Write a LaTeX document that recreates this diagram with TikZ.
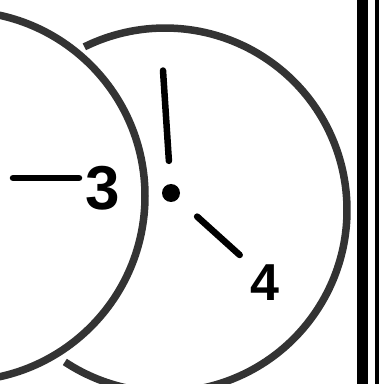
\documentclass[tikz,border=0pt]{standalone}
\usepackage{fontspec}
\setmainfont{Liberation Sans}
\usepackage{tikz}
\usetikzlibrary{positioning}

\begin{document}
\begin{tikzpicture}[x=1pt,y=1pt,
  ring/.style={line width=7.5pt,draw=black!80},
  lead/.style={line width=6.5pt,line cap=round},
  num/.style={inner sep=0pt,font=\bfseries\fontsize{#1}{#1}\selectfont}]
 \useasboundingbox (0,0) rectangle (379,384);
 \clip (0,0) rectangle (379,384);
 % ---- circles ----
 \draw[ring] (165,174) ++(-123.4:182) arc[start angle=-123.4,end angle=116.3,radius=182];
 \draw[ring] (-40,188) circle[radius=185];
 % ---- hub and arms ----
 \node[circle,fill,inner sep=0pt,minimum size=18pt] (hub) at (171,191) {};
 \coordinate (tip) at (163,313.5);
 \coordinate (arm) at (239.7,129);
 \draw[lead,shorten <=23pt] (hub) -- (tip);
 \draw[lead,shorten <=26pt] (hub) -- (arm);
 % ---- labels ----
 \node[num=62] (three) at (103,196) {3};
 \node[num=52] (four) at (265,101) {4};
 \coordinate (lead3) at (13,206);
 \draw[lead] (lead3) -- (79,206);
 % ---- rule ----
 \fill (357,0) rectangle (368,384);
 \fill (375,0) rectangle (379,384);
\end{tikzpicture}
\end{document}
